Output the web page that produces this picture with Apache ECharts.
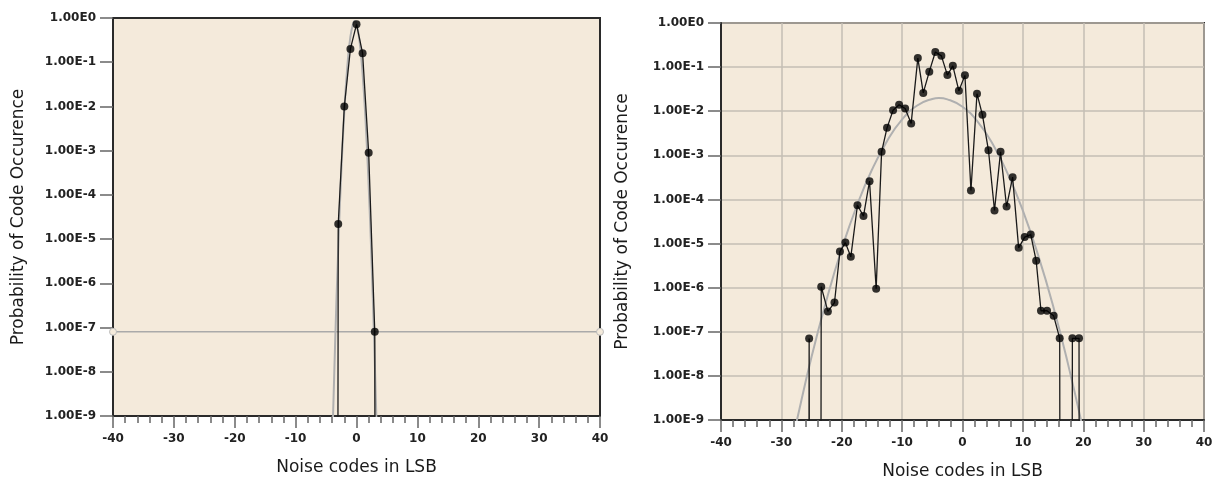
<!DOCTYPE html>
<html><head><meta charset="utf-8">
<script src="https://cdn.jsdelivr.net/npm/echarts@6/dist/echarts.min.js"></script>
<style>html,body{margin:0;padding:0;background:#fff}#c{width:1221px;height:478px}</style>
</head><body><div id="c"></div>
<script>
// ---- Left chart data (measured histogram, zero bins = 0) ----
const leftX = [-4, -3, -2, -1, 0, 1, 2, 3, 4];
const leftY = [0, 2.2e-5, 1.0e-2, 0.2, 0.72, 0.16, 9.0e-4, 8.0e-8, 0];
// gray fitted curve
const leftFitX = [-3.9, -3.5, -3, -2.5, -2, -1.5, -1, -0.5, -0.3, 0, 0.5, 1, 1.5, 2, 2.5, 3, 3.3];
const leftFitY = [6e-10, 5e-8, 6e-6, 3.3e-4, 7.8e-3, 8.2e-2, 0.38, 0.79, 0.85, 0.74, 0.30, 5.5e-2, 4.5e-3, 1.6e-4, 2.5e-6, 1.8e-8, 6e-10];
// gray horizontal floor line
const leftFloorX = [-40, 40];
const leftFloorY = [8e-8, 8e-8];

// ---- Right chart data ----
const rightX = [-26.4, -25.4, -24.4, -23.4, -22.3, -21.2, -20.3, -19.4, -18.5, -17.4, -16.4, -15.4, -14.3, -13.4, -12.5, -11.5, -10.5, -9.5, -8.5, -7.4, -6.5, -5.5, -4.5, -3.5, -2.5, -1.6, -0.6, 0.4, 1.4, 2.4, 3.3, 4.3, 5.3, 6.3, 7.3, 8.3, 9.3, 10.3, 11.3, 12.2, 13.0, 14.0, 15.1, 16.1, 17.1, 18.2, 19.3, 20.3];
const rightY = [0, 7e-8, 0, 1.05e-6, 2.9e-7, 4.6e-7, 6.6e-6, 1.05e-5, 5.0e-6, 7.4e-5, 4.2e-5, 2.6e-4, 9.5e-7, 1.2e-3, 4.2e-3, 1.05e-2, 1.4e-2, 1.15e-2, 5.3e-3, 0.16, 2.6e-2, 7.9e-2, 0.22, 0.18, 6.6e-2, 0.107, 2.9e-2, 6.5e-2, 1.6e-4, 2.5e-2, 8.3e-3, 1.3e-3, 5.6e-5, 1.2e-3, 6.9e-5, 3.2e-4, 8e-6, 1.4e-5, 1.6e-5, 4.1e-6, 3.0e-7, 3.0e-7, 2.3e-7, 7.1e-8, 0, 7.1e-8, 7.1e-8, 0];
const rightFitX = [-28, -27.5, -25, -22.5, -20, -17.5, -15, -12.5, -10, -7.5, -5, -3.9, -2.5, 0, 2.5, 5, 7.5, 10, 12.5, 15, 17.5, 20];
const rightFitY = [4.3e-10, 8.9e-10, 2.7e-8, 5.4e-7, 7.6e-6, 7.2e-5, 4.7e-4, 2.1e-3, 6.5e-3, 1.35e-2, 1.9e-2, 2.0e-2, 1.86e-2, 1.26e-2, 5.8e-3, 1.8e-3, 3.8e-4, 5.6e-5, 5.6e-6, 3.9e-7, 1.8e-8, 5.8e-10];

const xTitle = 'Noise codes in LSB';
const yTitle = 'Probability of Code Occurence';

// ---- helpers ----
const EMPTY = 1e-100; // zero-count bins fall far below the log axis and get clipped
const pairs = (xs, ys) => xs.map((x, i) => [x, ys[i] > 0 ? ys[i] : EMPTY]);
const dots = (xs, ys) => xs.map((x, i) => [x, ys[i]]).filter(p => p[1] > 0);

const FONT = 'DejaVu Sans, Verdana, sans-serif';
const BG = '#F4EADB';

function xAxis(gridIndex, split) {
  return {
    gridIndex, type: 'value', min: -40, max: 40, interval: 10,
    axisLine: { show: true, onZero: false, lineStyle: { color: '#2a2a2a', width: 2 } },
    axisTick: { show: true, length: 12, lineStyle: { color: '#666', width: 1.5 } },
    minorTick: { show: true, splitNumber: 5, length: 7, lineStyle: { color: '#666', width: 1.5 } },
    splitLine: { show: split, lineStyle: { color: '#c4beb4', width: 1.5 } },
    axisLabel: { margin: 17, fontFamily: FONT, fontWeight: 'bold', fontSize: 12, color: '#222' },
    name: xTitle, nameLocation: 'middle', nameGap: 43,
    nameTextStyle: { fontFamily: FONT, fontSize: 17, color: '#1a1a1a' }
  };
}
function yAxis(gridIndex, split, gap) {
  return {
    gridIndex, type: 'log', logBase: 10, min: 1e-9, max: 1, interval: 1,
    axisLine: { show: true, onZero: false, lineStyle: { color: '#2a2a2a', width: 2 } },
    axisTick: { show: true, length: 13, lineStyle: { color: '#666', width: 1.5 } },
    splitLine: { show: split, lineStyle: { color: '#c4beb4', width: 1.5 } },
    axisLabel: {
      margin: 17, fontFamily: FONT, fontWeight: 'bold', fontSize: 12, color: '#222',
      formatter: v => '1.00E' + Math.round(Math.log10(v))
    },
    name: yTitle, nameLocation: 'middle', nameGap: gap,
    nameTextStyle: { fontFamily: FONT, fontSize: 17, color: '#1a1a1a' }
  };
}

const chart = echarts.init(document.getElementById('c'), null, { renderer: 'canvas' });
chart.setOption({
  animation: false,
  grid: [
    { left: 113, top: 18, width: 487, height: 398, outerBoundsMode: 'none', containLabel: false,
      show: true, backgroundColor: BG, borderColor: '#2a2a2a', borderWidth: 2 },
    { left: 721, top: 23, width: 483, height: 397, outerBoundsMode: 'none', containLabel: false,
      show: true, backgroundColor: BG, borderColor: '#2a2a2a', borderWidth: 2 }
  ],
  xAxis: [xAxis(0, false), xAxis(1, true)],
  yAxis: [yAxis(0, false, 86), yAxis(1, true, 90)],
  series: [
    // left
    { type: 'line', xAxisIndex: 0, yAxisIndex: 0, data: pairs(leftFloorX, leftFloorY),
      symbol: 'circle', symbolSize: 7, showSymbol: true,
      lineStyle: { color: '#aaa', width: 1.5 }, itemStyle: { color: BG, borderColor: '#bbb', borderWidth: 1 }, z: 2 },
    { type: 'line', xAxisIndex: 0, yAxisIndex: 0, data: pairs(leftFitX, leftFitY), smooth: true,
      showSymbol: false, lineStyle: { color: '#b0b0b0', width: 2 }, z: 3 },
    { type: 'line', xAxisIndex: 0, yAxisIndex: 0, data: pairs(leftX, leftY),
      showSymbol: false, lineStyle: { color: '#1a1a1a', width: 1.3 }, z: 4 },
    { type: 'scatter', xAxisIndex: 0, yAxisIndex: 0, data: dots(leftX, leftY),
      symbolSize: 8, itemStyle: { color: '#000' }, z: 5 },
    // right
    { type: 'line', xAxisIndex: 1, yAxisIndex: 1, data: pairs(rightFitX, rightFitY), smooth: true,
      showSymbol: false, lineStyle: { color: '#b0b0b0', width: 2 }, z: 3 },
    { type: 'line', xAxisIndex: 1, yAxisIndex: 1, data: pairs(rightX, rightY),
      showSymbol: false, lineStyle: { color: '#1a1a1a', width: 1.3 }, z: 4 },
    { type: 'scatter', xAxisIndex: 1, yAxisIndex: 1, data: dots(rightX, rightY),
      symbolSize: 8, itemStyle: { color: '#000' }, z: 5 }
  ]
});
</script>
</body></html>
